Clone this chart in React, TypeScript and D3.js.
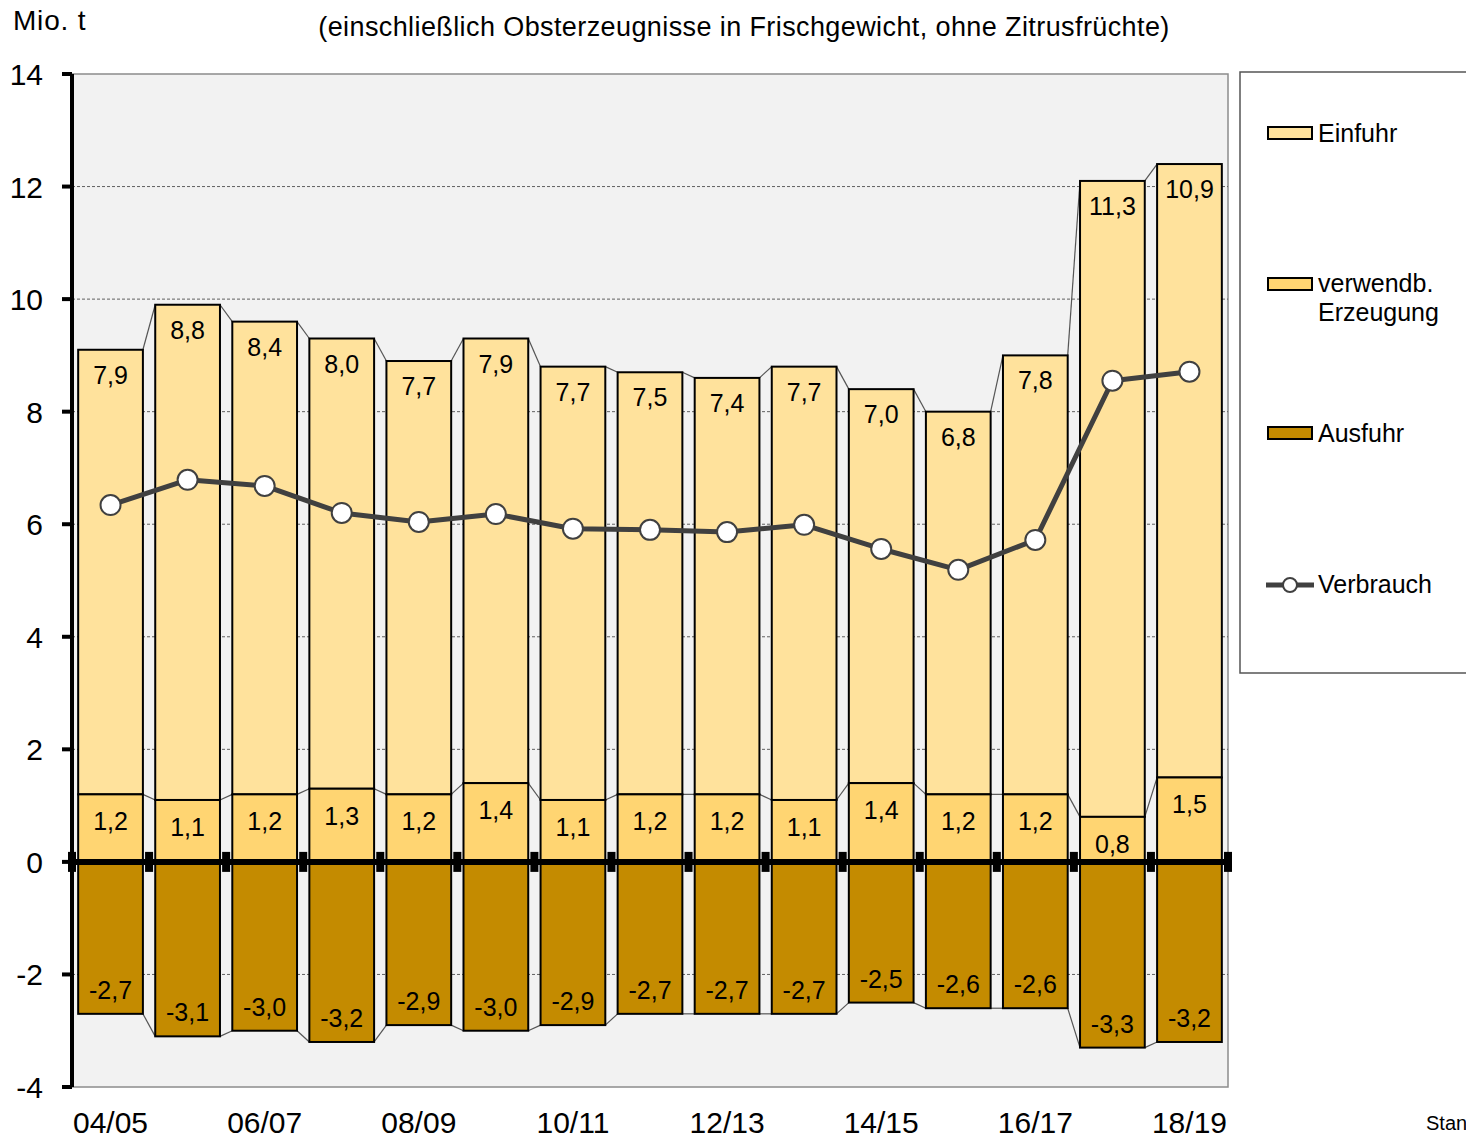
import React from "react";
import * as d3 from "d3";

// Daten (Mio. t)
const years = ["04/05", "05/06", "06/07", "07/08", "08/09", "09/10", "10/11", "11/12", "12/13", "13/14", "14/15", "15/16", "16/17", "17/18", "18/19"];
const erzeugung = [1.2, 1.1, 1.2, 1.3, 1.2, 1.4, 1.1, 1.2, 1.2, 1.1, 1.4, 1.2, 1.2, 0.8, 1.5];
const einfuhr = [7.9, 8.8, 8.4, 8.0, 7.7, 7.9, 7.7, 7.5, 7.4, 7.7, 7.0, 6.8, 7.8, 11.3, 10.9];
const ausfuhr = [-2.7, -3.1, -3.0, -3.2, -2.9, -3.0, -2.9, -2.7, -2.7, -2.7, -2.5, -2.6, -2.6, -3.3, -3.2];
const verbrauch = [6.34, 6.79, 6.68, 6.2, 6.04, 6.18, 5.92, 5.9, 5.86, 5.99, 5.56, 5.19, 5.72, 8.55, 8.71];
const yTicks = [-4, -2, 0, 2, 4, 6, 8, 10, 12, 14];
const xLabels = ["04/05", "06/07", "08/09", "10/11", "12/13", "14/15", "16/17", "18/19"];

const W = 1466;
const H = 1141;
const left = 72, right = 1228, top = 74, bottom = 1087;

const C_EIN = "#FFE29C";
const C_ERZ = "#FFD572";
const C_AUS = "#C48B00";
const C_LINE = "#404040";
const FONT = "'Liberation Sans', Arial, sans-serif";

const fmt = (v: number) => v.toFixed(1).replace(".", ",");

export default function App() {
  const x = d3.scaleBand<string>().domain(years).range([left, right]).paddingInner(0.16).paddingOuter(0.08);
  const y = d3.scaleLinear().domain([-4, 14]).range([bottom, top]);
  const bw = x.bandwidth();
  const step = x.step();
  const y0 = y(0);

  const rows = years.map((yr, i) => ({
    yr,
    x0: x(yr)!,
    erzTop: y(erzeugung[i]),
    einTop: y(erzeugung[i] + einfuhr[i]),
    ausBot: y(ausfuhr[i]),
  }));

  const line = d3.line<number>()
    .x((_, i) => x(years[i])! + bw / 2)
    .y((d) => y(d));

  // Reihenlinien zwischen benachbarten Säulen
  const seriesLines: string[] = [];
  rows.forEach((r, i) => {
    if (i === rows.length - 1) return;
    const n = rows[i + 1];
    seriesLines.push(`M${r.x0 + bw},${r.einTop}L${n.x0},${n.einTop}`);
    seriesLines.push(`M${r.x0 + bw},${r.erzTop}L${n.x0},${n.erzTop}`);
    seriesLines.push(`M${r.x0 + bw},${r.ausBot}L${n.x0},${n.ausBot}`);
  });

  const boundaries = d3.range(years.length + 1).map((i) => left + i * step);

  return (
    <svg width={W} height={H} style={{ position: "absolute", left: 0, top: 0, background: "#fff" }} fontFamily={FONT}>
      <text x={13} y={30} fontSize={28} letterSpacing={0.8} fill="#000">Mio. t</text>
      <text x={744} y={36} fontSize={27} letterSpacing={0.4} textAnchor="middle" fill="#000">
        (einschließlich Obsterzeugnisse in Frischgewicht, ohne Zitrusfrüchte)
      </text>

      {/* Zeichenfläche */}
      <rect x={left} y={top} width={right - left} height={bottom - top} fill="#F2F2F2" stroke="#8C8C8C" strokeWidth={1.5} />

      {yTicks.filter((t) => t !== 0 && t !== -4 && t !== 14).map((t) => (
        <line key={t} x1={left} x2={right} y1={y(t)} y2={y(t)} stroke="#606060" strokeWidth={1} strokeDasharray="3,2" />
      ))}

      {/* Reihenlinien */}
      {seriesLines.map((d, i) => (
        <path key={i} d={d} stroke="#555" strokeWidth={1.2} fill="none" />
      ))}

      {/* Säulen */}
      {rows.map((r, i) => (
        <g key={r.yr}>
          <rect x={r.x0} y={r.einTop} width={bw} height={r.erzTop - r.einTop} fill={C_EIN} stroke="#000" strokeWidth={2} />
          <rect x={r.x0} y={r.erzTop} width={bw} height={y0 - r.erzTop} fill={C_ERZ} stroke="#000" strokeWidth={2} />
          <rect x={r.x0} y={y0} width={bw} height={r.ausBot - y0} fill={C_AUS} stroke="#000" strokeWidth={2} />
          <text x={r.x0 + bw / 2} y={r.einTop + 34} fontSize={25} textAnchor="middle" fill="#000">{fmt(einfuhr[i])}</text>
          <text x={r.x0 + bw / 2} y={r.erzTop + 36} fontSize={25} textAnchor="middle" fill="#000">{fmt(erzeugung[i])}</text>
          <text x={r.x0 + bw / 2} y={r.ausBot - 15} fontSize={25} textAnchor="middle" fill="#000">{fmt(ausfuhr[i])}</text>
        </g>
      ))}

      {/* Verbrauch */}
      <path d={line(verbrauch) ?? ""} fill="none" stroke={C_LINE} strokeWidth={5} strokeLinejoin="round" />
      {verbrauch.map((v, i) => (
        <circle key={i} cx={x(years[i])! + bw / 2} cy={y(v)} r={10} fill="#fff" stroke={C_LINE} strokeWidth={2} />
      ))}

      {/* Nulllinie mit Teilstrichen */}
      <line x1={left} x2={right + 2} y1={y0} y2={y0} stroke="#000" strokeWidth={6} />
      {boundaries.map((bx, i) => (
        <rect key={i} x={bx - 4} y={y0 - 10} width={8} height={20} fill="#000" />
      ))}

      {/* y-Achse */}
      <line x1={left} x2={left} y1={top} y2={bottom} stroke="#000" strokeWidth={4} />
      {yTicks.map((t) => (
        <g key={t}>
          <line x1={left - 10} x2={left} y1={y(t)} y2={y(t)} stroke="#000" strokeWidth={4} />
          <text x={43} y={y(t) + 11} fontSize={30} textAnchor="end" fill="#000">{t}</text>
        </g>
      ))}

      {/* x-Beschriftung */}
      {xLabels.map((l) => (
        <text key={l} x={x(l)! + bw / 2} y={1133} fontSize={30} textAnchor="middle" fill="#000">{l}</text>
      ))}

      {/* Legende */}
      <rect x={1240} y={72} width={240} height={601} fill="#fff" stroke="#555" strokeWidth={1.5} />
      <rect x={1268} y={127} width={44} height={12} fill={C_EIN} stroke="#000" strokeWidth={2} />
      <text x={1318} y={142} fontSize={25} fill="#000">Einfuhr</text>
      <rect x={1268} y={278} width={44} height={12} fill={C_ERZ} stroke="#000" strokeWidth={2} />
      <text x={1318} y={292} fontSize={25} fill="#000">verwendb.</text>
      <text x={1318} y={321} fontSize={25} fill="#000">Erzeugung</text>
      <rect x={1268} y={427} width={44} height={12} fill={C_AUS} stroke="#000" strokeWidth={2} />
      <text x={1318} y={442} fontSize={25} fill="#000">Ausfuhr</text>
      <line x1={1266} x2={1314} y1={585} y2={585} stroke={C_LINE} strokeWidth={5} />
      <circle cx={1290} cy={585} r={7} fill="#fff" stroke={C_LINE} strokeWidth={2} />
      <text x={1318} y={593} fontSize={25} fill="#000">Verbrauch</text>

      <text x={1426} y={1130} fontSize={20} fill="#000">Stan</text>
    </svg>
  );
}
